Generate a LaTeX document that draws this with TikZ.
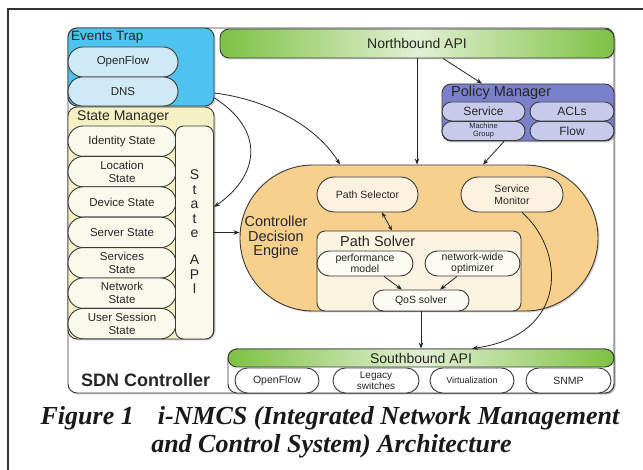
\documentclass[tikz,border=0pt]{standalone}
\usepackage{fontspec}
\setmainfont{Liberation Serif}
\newfontfamily\lsans{Liberation Sans}
\usetikzlibrary{shapes.misc,arrows.meta,shadows}
\definecolor{evblue}{HTML}{4EC3EF}
\definecolor{evpill}{HTML}{CFEAF6}
\definecolor{smyel}{HTML}{F6F1C4}
\definecolor{smpill}{HTML}{FBF8EC}
\definecolor{nbgreen}{HTML}{7DC143}
\definecolor{nblight}{HTML}{E2F0D3}
\definecolor{pmblue}{HTML}{7B80CB}
\definecolor{pmpill}{HTML}{C8CAEC}
\definecolor{cdeor}{HTML}{F8D08D}
\definecolor{cdepill}{HTML}{FCF2DF}
\definecolor{solver}{HTML}{FCF3E0}
\definecolor{solpill}{HTML}{FEFBF4}
\definecolor{edge}{HTML}{3A3A3A}
\definecolor{txt}{HTML}{262626}
\newcommand{\fsz}[2]{\fontsize{#1}{#2}\selectfont}
\tikzset{
  box/.style={draw=edge, line width=0.9pt, rounded corners=9pt, inner sep=0pt, text=txt},
  pill/.style={rounded rectangle, draw=edge, line width=0.9pt, inner sep=0pt, align=center, text=txt, font=\lsans\fsz{11.5}{13}},
  ttl/.style={anchor=west, inner sep=0pt, text=txt, font=\lsans\fsz{14}{15}},
  arr/.style={-{Stealth[length=6pt,width=4.5pt]}, line width=0.8pt, draw=black!85},
  shad/.style={drop shadow={opacity=0.35, shadow xshift=1.5pt, shadow yshift=-1.5pt}},
  grn/.style={left color=nbgreen, right color=nbgreen, middle color=nblight},
}
\begin{document}
\begin{tikzpicture}[x=1pt,y=-1pt]
\useasboundingbox (0,0) rectangle (643,470);
\fill[white] (0,0) rectangle (643,470);
\draw[line width=1.2pt, draw=black!80] (8,470) -- (8,9) -- (643,9);

% main SDN controller box
\node[box, shad, fill=white, minimum width=546, minimum height=365] (main) at (341,210.5) {};
\node[anchor=west, inner sep=0pt, text=txt, font=\lsans\bfseries\fsz{18}{20}] (sdn) at (81,380) {SDN Controller};

% Northbound API
\node[box, shad, grn, minimum width=394, minimum height=29, font=\lsans\fsz{14}{15}] (nb) at (417,43.5) {Northbound API};

% Events Trap
\node[box, shad, fill=evblue, minimum width=146, minimum height=78] (et) at (141,67) {};
\node[ttl, font=\lsans\fsz{13.5}{15}] (ettl) at (71,37.5) {Events Trap};
\node[pill, fill=evpill, minimum width=110, minimum height=30] (eof) at (123,62) {OpenFlow};
\node[pill, fill=evpill, minimum width=110, minimum height=29] (edns) at (123,91.5) {DNS};

% State Manager
\node[box, shad, fill=smyel, minimum width=146, minimum height=232] (sm) at (141,223) {};
\node[ttl] (smtl) at (77,117) {State Manager};
\node[pill, fill=smpill, minimum width=108, minimum height=30.4] (s1) at (122,141.2) {Identity State};
\node[pill, fill=smpill, minimum width=108, minimum height=30.4] (s2) at (122,171.6) {Location\\State};
\node[pill, fill=smpill, minimum width=108, minimum height=30.4] (s3) at (122,202) {Device State};
\node[pill, fill=smpill, minimum width=108, minimum height=30.4] (s4) at (122,232.4) {Server State};
\node[pill, fill=smpill, minimum width=108, minimum height=30.4] (s5) at (122,262.8) {Services\\State};
\node[pill, fill=smpill, minimum width=108, minimum height=30.4] (s6) at (122,293.2) {Network\\State};
\node[pill, fill=smpill, minimum width=108, minimum height=30.4] (s7) at (122,323.6) {User Session\\State};
\node[box, fill=smpill, rounded corners=8pt, minimum width=38, minimum height=213] (sa) at (194.5,232.5) {};
\node[inner sep=0pt, align=center, text=txt, font=\lsans\fsz{14}{14.5}] (satxt) at (194.5,232) {S\\t\\a\\t\\e\\[12.5pt]A\\P\\I};

% Policy Manager
\node[box, shad, fill=pmblue, minimum width=172, minimum height=57] (pm) at (528,112.5) {};
\node[ttl, font=\lsans\fsz{14.5}{15}] (pmtl) at (451,92.5) {Policy Manager};
\node[pill, fill=pmpill, minimum width=83, minimum height=19, font=\lsans\fsz{12}{13}] (pm1) at (483.5,111.5) {Service};
\node[pill, fill=pmpill, minimum width=84, minimum height=19, font=\lsans\fsz{12}{13}] (pm2) at (572,111.5) {ACLs};
\node[pill, fill=pmpill, minimum width=83, minimum height=19, font=\lsans\fsz{7.5}{8}] (pm3) at (483.5,131) {Machine\\Group};
\node[pill, fill=pmpill, minimum width=84, minimum height=19, font=\lsans\fsz{12}{13}] (pm4) at (572,131) {Flow};

% Controller Decision Engine
\node[rounded rectangle, draw=edge, line width=0.9pt, shad, fill=cdeor, minimum width=358, minimum height=146, inner sep=0pt] (cde) at (419,238) {};
\node[inner sep=0pt, align=center, text=txt, font=\lsans\fsz{14.5}{14.5}] (cdetxt) at (276,237.5) {Controller\\Decision\\Engine};
\node[pill, fill=cdepill, minimum width=101, minimum height=35, font=\lsans\fsz{10.5}{12}] (ps) at (367.5,194.5) {Path Selector};
\node[pill, fill=cdepill, minimum width=102, minimum height=35, font=\lsans\fsz{10.5}{12}] (smon) at (512,194.5) {Service\\Monitor};
\node[box, fill=solver, rounded corners=8pt, minimum width=204, minimum height=80] (pso) at (419,271) {};
\node[ttl, font=\lsans\fsz{14.5}{15}] (psotl) at (340,241.5) {Path Solver};
\node[pill, fill=solpill, minimum width=96, minimum height=25, font=\lsans\fsz{10.5}{11}] (perf) at (365,263.5) {performance\\model};
\node[pill, fill=solpill, minimum width=95, minimum height=25, font=\lsans\fsz{10.5}{11}] (nwo) at (472.5,263.5) {network-wide\\optimizer};
\node[pill, fill=solpill, minimum width=96, minimum height=21, font=\lsans\fsz{10.5}{12}] (qos) at (421,300.5) {QoS solver};

% Southbound API
\node[box, shad, fill=white, minimum width=386, minimum height=44] (sbox) at (421,371) {};
\node[box, grn, minimum width=386, minimum height=18, font=\lsans\fsz{14}{15}] (sb) at (421,358) {Southbound API};
\node[pill, fill=white, minimum width=84, minimum height=25, font=\lsans\fsz{10.5}{11}] (b1) at (277,380.5) {OpenFlow};
\node[pill, fill=white, minimum width=86, minimum height=25, font=\lsans\fsz{10}{10.5}] (b2) at (376,380.5) {Legacy\\switches};
\node[pill, fill=white, minimum width=84, minimum height=25, font=\lsans\fsz{9}{10}] (b3) at (472,380.5) {Virtualization};
\node[pill, fill=white, minimum width=85, minimum height=25, font=\lsans\fsz{10.5}{11}] (b4) at (568.5,380.5) {SNMP};

% connectors
\draw[arr] (nb.south) -- (nb.south |- cde.north);
\draw[arr] ([xshift=26pt]nb.south) -- ([xshift=-46pt]pm.north);
\draw[arr] ([xshift=-24pt]pm.south) -- ([xshift=64pt]cde.north);
\draw[arr] ([yshift=-26pt]et.east) .. controls (270,100) and (318,128) .. ([xshift=-79pt]cde.north);
\draw[arr] ([yshift=-31pt]et.east) .. controls (265,130) and (260,175) .. ([yshift=25.5pt]sa.east);
\draw[arr] (sa.east) -- (sa.east -| cde.west);
\draw[arr, {Stealth[length=5pt,width=4pt]}-{Stealth[length=5pt,width=4pt]}] ([xshift=14.5pt]ps.south) -- ([xshift=-27pt]pso.north);
\draw[arr] ([xshift=19pt]perf.south) -- ([xshift=-19pt]qos.north);
\draw[arr] ([xshift=-15.5pt]nwo.south) -- ([xshift=19pt]qos.north);
\draw[arr] (qos.south) -- (qos.south |- sb.north);
\draw[arr] ([xshift=10pt]smon.south) .. controls (565,250) and (570,335) .. ([xshift=51pt]sb.north);

% caption
\node[inner sep=0pt, text=black!90, font=\bfseries\itshape\fsz{26}{28}] (cap1) at (330,418) {Figure 1\hspace{24pt}i-NMCS (Integrated Network Management};
\node[inner sep=0pt, text=black!90, font=\bfseries\itshape\fsz{26}{28}] (cap2) at (331.5,446) {and Control System) Architecture};
\end{tikzpicture}
\end{document}
